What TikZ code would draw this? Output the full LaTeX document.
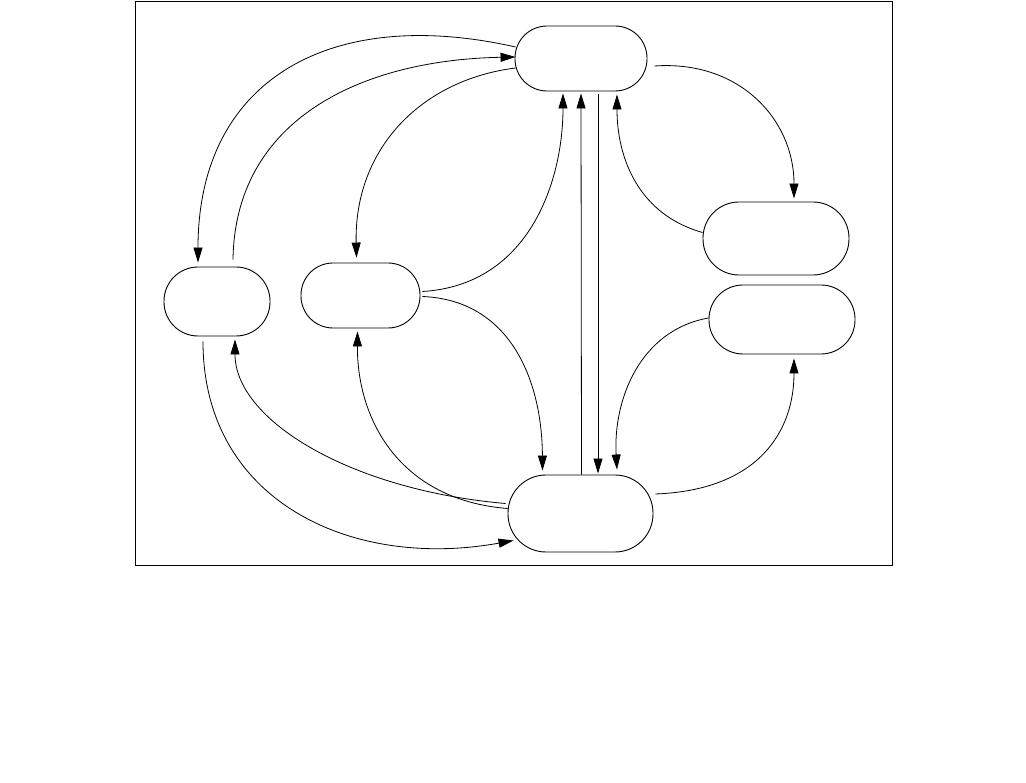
\documentclass[tikz,border=0pt]{standalone}
\usetikzlibrary{arrows.meta,calc}
\begin{document}
\begin{tikzpicture}[x=1pt,y=-1pt,
  state/.style={draw,line width=0.9pt,rectangle,inner sep=0pt},
  conn/.style={line width=0.8pt,-{Triangle[length=15pt,width=9pt]}},
  plain/.style={line width=0.8pt}]
\useasboundingbox (0,0) rectangle (1026,783);
\draw[line width=0.9pt] (135,1) rectangle (892,565);
\node[state,minimum width=132pt,minimum height=65pt,rounded corners=32pt] (T) at (581,58.5) {};
\node[state,minimum width=106pt,minimum height=69pt,rounded corners=34pt] (L) at (217,301.5) {};
\node[state,minimum width=119pt,minimum height=65pt,rounded corners=32pt] (M) at (360.5,295.5) {};
\node[state,minimum width=146pt,minimum height=73pt,rounded corners=36pt] (R1) at (776,238.5) {};
\node[state,minimum width=146pt,minimum height=69pt,rounded corners=34pt] (R2) at (782,319.5) {};
\node[state,minimum width=145pt,minimum height=77pt,rounded corners=38pt] (B) at (580.5,513.5) {};
% left arcs
\draw[conn] ($(T.west)+(1,-11.5)$) .. controls (330,5) and (198,80) .. ($(L.north)+(-19,-4)$);
\draw[conn] ($(L.north)+(16,-7)$) .. controls (235,120) and (360,60) .. ($(T.west)+(1,-1.5)$);
\draw[conn] ($(T.west)+(1,9.5)$) .. controls (420,80) and (354,150) .. ($(M.north)+(-4,-5)$);
\draw[conn] ($(M.east)+(2,-4)$) .. controls (530,285) and (563,180) .. ($(T.south)+(-18,2)$);
\draw[conn] ($(M.east)+(2,1)$) .. controls (510,300) and (542,380) .. ($(B.north)+(-38,-4)$);
% verticals
\draw[conn] ($(B.north)+(1,0)$) -- ($(T.south)+(0,2)$);
\draw[conn] ($(T.south)+(17,3)$) -- ($(B.north)+(17.5,-1)$);
% right arcs
\draw[conn] ($(R1.west)+(0,-6)$) .. controls (640,215) and (617,160) .. ($(T.south)+(36,3)$);
\draw[conn] ($(T.east)+(7,7.5)$) .. controls (740,60) and (794,120) .. ($(R1.north)+(18,-3)$);
\draw[conn] ($(R2.west)+(0,-1.5)$) .. controls (640,330) and (613,400) .. ($(B.north)+(36.5,-5)$);
\draw[conn] ($(B.east)+(2,-19.5)$) .. controls (760,490) and (794,430) .. ($(R2.south)+(12,4)$);
% bottom arcs
\draw[conn] ($(B.west)+(-2,-10)$) .. controls (350,490) and (235,420) .. ($(L.south)+(18,3)$);
\draw[conn] ($(B.west)+(0,-5)$) .. controls (400,500) and (357,420) .. ($(M.south)+(-3,3)$);
\draw[conn] ($(L.south)+(-14,5)$) .. controls (203,500) and (350,570) .. ($(B.west)+(6,27)$);
\end{tikzpicture}
\end{document}
